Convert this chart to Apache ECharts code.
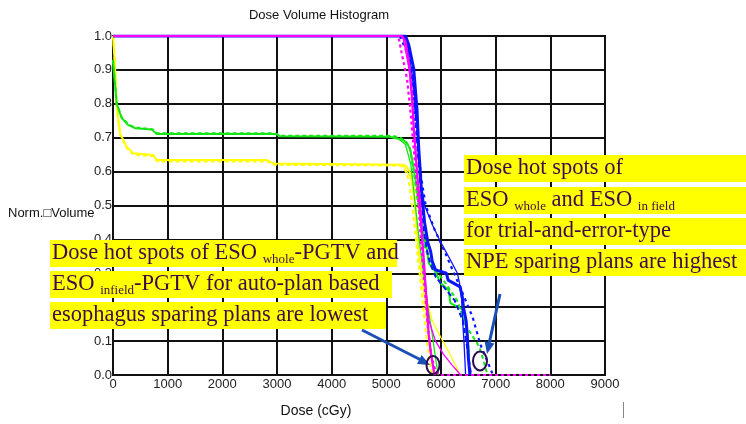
<!DOCTYPE html>
<html>
<head>
<meta charset="utf-8">
<script src="https://cdn.jsdelivr.net/npm/echarts@6/dist/echarts.min.js"></script>
<style>
html,body{margin:0;padding:0;background:#fff;}
#chart{width:746px;height:424px;}
</style>
</head>
<body>
<div id="chart"></div>
<script>
// ---- data (dose in cGy, normalized volume) ----
var xTicks = [0,1000,2000,3000,4000,5000,6000,7000,8000,9000];
var yTicks = [0,0.1,0.2,0.3,0.4,0.5,0.6,0.7,0.8,0.9,1.0];

var magentaSolid = [[0,1],[5280,1],[5350,0.985],[5410,0.925],[5470,0.83],[5500,0.73],[5530,0.67],[5560,0.6],[5620,0.5],[5650,0.42],[5690,0.33],[5730,0.23],[5775,0.12],[5810,0.07],[5870,0.01],[5900,0]];
var magentaDotted = [[0,1],[5220,1],[5280,0.95],[5377,0.876],[5440,0.78],[5500,0.67],[5550,0.58],[5600,0.48],[5640,0.38],[5700,0.26],[5760,0.14],[5820,0.06],[5900,0.01],[6000,0],[8000,0]];
var magentaThin = [[5300,1],[5420,0.9],[5520,0.7],[5600,0.5],[5700,0.3],[5780,0.16],[5900,0.1],[6050,0.06],[6200,0.03],[6360,0]];

var blueThick = [[0,1],[5350,1],[5409,0.975],[5500,0.905],[5562,0.78],[5592,0.67],[5640,0.55],[5700,0.45],[5760,0.39],[5810,0.365],[5840,0.335],[5900,0.31],[6100,0.3],[6130,0.28],[6350,0.26],[6390,0.23],[6410,0.2],[6460,0.16],[6480,0.12],[6500,0.05],[6530,0]];
var blueDashed = [[5300,1],[5380,0.97],[5470,0.9],[5530,0.78],[5570,0.67],[5610,0.59],[5650,0.5],[5690,0.42],[5740,0.37],[5800,0.33],[5900,0.29],[6050,0.26],[6250,0.22],[6400,0.16],[6480,0.08],[6550,0]];
var blueThin = [[5330,1],[5420,0.95],[5520,0.82],[5590,0.66],[5640,0.56],[5700,0.5],[5850,0.44],[6000,0.39],[6170,0.34],[6300,0.3],[6340,0.27],[6380,0.22],[6400,0.15],[6420,0.1],[6450,0]];
var blueDotted = [[5250,1],[5380,0.95],[5480,0.85],[5560,0.7],[5640,0.58],[5720,0.5],[5880,0.43],[6050,0.37],[6320,0.27],[6580,0.17],[6720,0.09],[6850,0.04],[6950,0]];

var greenSolid = [[0,0.925],[68,0.8],[159,0.758],[275,0.738],[403,0.728],[709,0.724],[800,0.711],[3000,0.711],[3050,0.704],[5055,0.703],[5311,0.693],[5377,0.684],[5440,0.664],[5495,0.614],[5560,0.55],[5623,0.466],[5700,0.4],[5745,0.369],[5775,0.33],[5897,0.305],[5989,0.271],[6141,0.25],[6172,0.212],[6410,0.192],[6447,0.153],[6502,0.083],[6520,0.009],[6530,0]];
var greenDashed = [[0,0.93],[70,0.8],[160,0.76],[280,0.74],[400,0.73],[720,0.725],[800,0.713],[2950,0.713],[3050,0.706],[5100,0.706],[5250,0.7],[5350,0.69],[5430,0.67],[5500,0.6],[5560,0.53],[5620,0.45],[5700,0.38],[5806,0.33],[6044,0.28],[6293,0.22],[6477,0.14],[6660,0.094],[6720,0.074],[6800,0.03],[6850,0]];
var greenThin = [[5200,0.7],[5350,0.68],[5450,0.62],[5530,0.5],[5600,0.4],[5680,0.3],[5760,0.2],[5840,0.12],[5900,0.05],[5950,0]];

var yellowSolid = [[0,1],[5,0.998],[37,0.909],[68,0.79],[128,0.713],[251,0.673],[372,0.654],[738,0.649],[800,0.634],[2815,0.634],[2936,0.624],[5317,0.62],[5378,0.614],[5440,0.595],[5500,0.556],[5530,0.5],[5560,0.44],[5592,0.369],[5683,0.25],[5775,0.124],[5867,0.006],[5880,0]];
var yellowDashed = [[0,1],[10,0.99],[40,0.9],[70,0.79],[130,0.71],[250,0.67],[380,0.65],[740,0.645],[810,0.63],[2830,0.63],[2950,0.62],[5250,0.618],[5330,0.61],[5400,0.58],[5450,0.53],[5500,0.46],[5560,0.37],[5640,0.25],[5720,0.13],[5800,0.03],[5840,0]];
var yellowThin = [[5300,0.62],[5450,0.58],[5520,0.5],[5600,0.35],[5700,0.25],[5835,0.162],[6000,0.11],[6200,0.05],[6355,0]];

var titleText = 'Dose Volume Histogram';
var xName = 'Dose (cGy)';
var yName = 'Norm.\u25A1Volume';

// ---- chart ----
var MAG = '#ff00ff', BLU = '#0a14ff', GRN = '#14e614', YEL = '#ffff00';
function ser(data, color, width, type, z) {
  return {type:'line', data:data, showSymbol:false, symbol:'none', smooth:false, z:z||2,
    lineStyle:{color:color, width:width, type:type||'solid'}, silent:true};
}
var chart = echarts.init(document.getElementById('chart'), null, {renderer:'canvas'});
var TXT = '#400a4a';
var serifFont = '"Liberation Serif", "Times New Roman", serif';
function hl(x, y, w, h) {
  return {type:'rect', shape:{x:x, y:y, width:w, height:h}, style:{fill:'#ffff00'}, z:10, silent:true};
}
function tx(x, y, text) {
  return {type:'text', x:x, y:y, z:11, silent:true,
    style:{text:text, fill:TXT, font:'22.5px ' + serifFont, textVerticalAlign:'middle',
      rich:{
        m:{fontSize:22.5, fontFamily:serifFont, color:TXT, lineHeight:26},
        s:{fontSize:13, fontFamily:serifFont, color:TXT, lineHeight:13, verticalAlign:'bottom'}
      }}};
}
var option = {
  animation:false,
  backgroundColor:'#fff',
  grid:{left:113, right:141, top:36, bottom:49, show:true, borderColor:'#111', borderWidth:2, backgroundColor:'transparent'},
  xAxis:{type:'value', min:0, max:9000, interval:1000,
    axisLine:{show:true, lineStyle:{color:'#111', width:2}},
    axisTick:{show:false},
    splitLine:{show:true, lineStyle:{color:'#111', width:2}},
    axisLabel:{color:'#222', fontSize:13, fontFamily:'"Liberation Sans", Arial, sans-serif', margin:3,
      showMinLabel:true, showMaxLabel:true,
      formatter:function(v){ return xTicks.indexOf(v) >= 0 ? String(v) : ''; }}},
  yAxis:{type:'value', min:0, max:1, interval:0.1,
    axisLine:{show:true, lineStyle:{color:'#111', width:2}},
    axisTick:{show:false},
    splitLine:{show:true, lineStyle:{color:'#111', width:2}},
    axisLabel:{color:'#222', fontSize:13, fontFamily:'"Liberation Sans", Arial, sans-serif', margin:1,
      showMinLabel:true, showMaxLabel:true,
      formatter:function(v){ return v.toFixed(1); }}},
  series:[
    ser(yellowThin, YEL, 1.3),
    ser(yellowSolid, YEL, 2),
    ser(yellowDashed, YEL, 2, [4,3]),
    ser(greenThin, GRN, 1.3),
    ser(greenSolid, GRN, 2),
    ser(greenDashed, GRN, 2, [4,3]),
    ser(blueThin, BLU, 1.3),
    ser(blueDotted, BLU, 2.2, [3,4]),
    ser(blueDashed, BLU, 2, [5,3]),
    ser(blueThick, BLU, 3),
    ser(magentaThin, MAG, 1.3),
    ser(magentaSolid, MAG, 2.2),
    ser(magentaDotted, MAG, 2.2, [3,3])
  ],
  graphic:[
    {type:'text', x:319, y:15, style:{text:titleText, fill:'#111', font:'13px "Liberation Sans", Arial, sans-serif', textAlign:'center', textVerticalAlign:'middle'}},
    {type:'text', x:316, y:411, style:{text:xName, fill:'#111', font:'14px "Liberation Sans", Arial, sans-serif', textAlign:'center', textVerticalAlign:'middle'}},
    {type:'text', x:8, y:213, style:{text:yName, fill:'#111', font:'13px "Liberation Sans", Arial, sans-serif', textAlign:'left', textVerticalAlign:'middle'}},
    {type:'line', shape:{x1:623.5, y1:402, x2:623.5, y2:418}, style:{stroke:'#888', lineWidth:1}},
    // right annotation
    hl(464,155,282,27), hl(464,187,282,27), hl(464,218,282,27), hl(464,249,282,27),
    tx(466,168.5,'{m|Dose hot spots of}'),
    tx(466,200.5,'{m|ESO }{s|whole}{m| and ESO }{s|in field}'),
    tx(466,231.5,'{m|for trial-and-error-type}'),
    tx(466,262.5,'{m|NPE sparing plans are highest}'),
    // left annotation
    hl(50,240,347,27), hl(50,271,342,27), hl(50,302,336,27),
    tx(52,253.5,'{m|Dose hot spots of ESO }{s|whole}{m|-PGTV and}'),
    tx(52,284.5,'{m|ESO }{s|infield}{m|-PGTV for auto-plan based}'),
    tx(52,315.5,'{m|esophagus sparing plans are lowest}'),
    // arrows
    {type:'line', z:12, shape:{x1:362, y1:330, x2:421, y2:360}, style:{stroke:'#1a4fb5', lineWidth:3}},
    {type:'polygon', z:12, shape:{points:[[430,365],[421.6,355.1],[417,363.9]]}, style:{fill:'#1a4fb5'}},
    {type:'line', z:12, shape:{x1:500, y1:294, x2:489, y2:344}, style:{stroke:'#1a4fb5', lineWidth:3}},
    {type:'polygon', z:12, shape:{points:[[487,354],[494.4,343.4],[484.6,341.2]]}, style:{fill:'#1a4fb5'}},
    // circles
    {type:'ellipse', z:12, shape:{cx:433, cy:365, rx:6.5, ry:9}, style:{fill:'none', stroke:'#2a0a50', lineWidth:2}},
    {type:'ellipse', z:12, shape:{cx:480, cy:361, rx:7, ry:9.5}, style:{fill:'none', stroke:'#2a0a50', lineWidth:2}}
  ]
};
chart.setOption(option);
</script>
</body>
</html>
